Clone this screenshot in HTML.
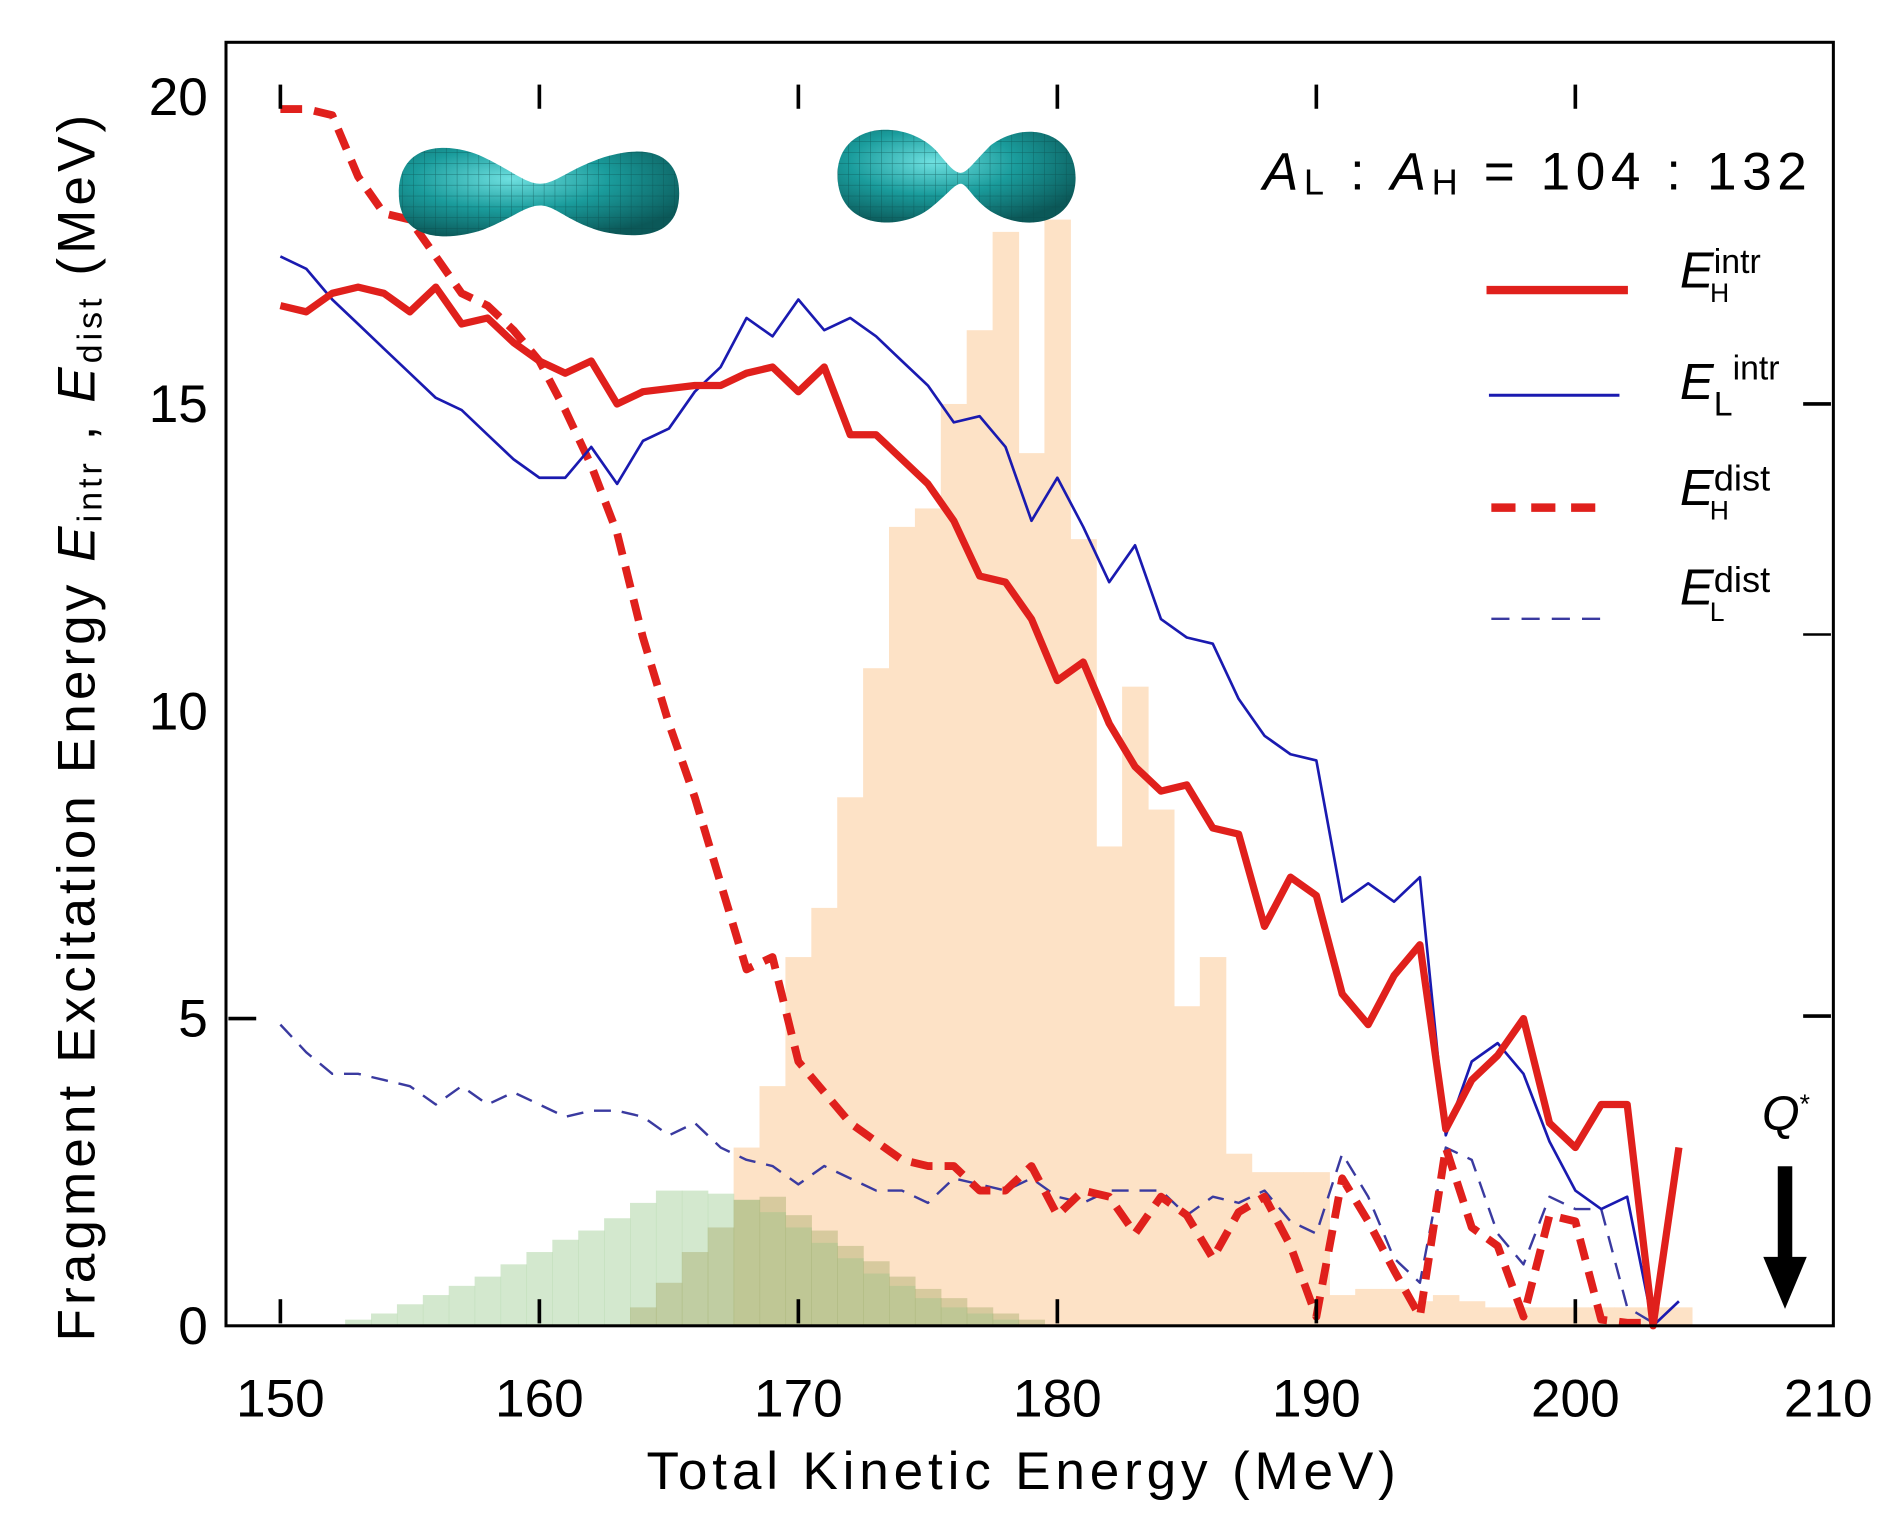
<!DOCTYPE html>
<html><head><meta charset="utf-8"><style>
html,body{margin:0;padding:0;background:#fff;}
svg{display:block;font-family:"Liberation Sans",Arial,sans-serif;}
</style></head><body>
<svg id="chart" width="1895" height="1524" viewBox="0 0 1568 1261" preserveAspectRatio="none" xmlns="http://www.w3.org/2000/svg">
<defs>
<radialGradient id="teal" cx="40%" cy="35%" r="70%">
<stop offset="0" stop-color="#6fe0e0"/><stop offset="0.5" stop-color="#1a9c9c"/><stop offset="1" stop-color="#0b5858"/>
</radialGradient>
<pattern id="grid" width="9" height="9" patternUnits="userSpaceOnUse">
<path d="M0 0H9M0 0V9" stroke="#0a4a4a" stroke-width="0.8" fill="none" opacity="0.6"/>
</pattern>
</defs>
<g id="hist"></g>
<g id="lines"></g>
<g id="axes"></g>
<g>
<path d="M330 160 C330 115 375 118 400 130 C425 142 435 152 447 152 C460 152 470 140 500 130 C540 118 562 130 562 160 C562 190 540 200 500 192 C470 184 460 170 447 170 C435 170 425 180 400 190 C370 200 330 200 330 160Z" fill="url(#teal)"/>
<path d="M330 160 C330 115 375 118 400 130 C425 142 435 152 447 152 C460 152 470 140 500 130 C540 118 562 130 562 160 C562 190 540 200 500 192 C470 184 460 170 447 170 C435 170 425 180 400 190 C370 200 330 200 330 160Z" fill="url(#grid)"/>
</g>
<g>
<path d="M693 145 C693 100 750 98 775 125 C785 137 790 143 795 143 C800 143 805 135 820 120 C850 98 890 110 890 147 C890 185 850 193 820 175 C805 165 800 152 795 152 C790 152 785 160 770 172 C745 192 693 190 693 145Z" fill="url(#teal)"/>
<path d="M693 145 C693 100 750 98 775 125 C785 137 790 143 795 143 C800 143 805 135 820 120 C850 98 890 110 890 147 C890 185 850 193 820 175 C805 165 800 152 795 152 C790 152 785 160 770 172 C745 192 693 190 693 145Z" fill="url(#grid)"/>
</g>
<text x="1045" y="157" font-size="44" textLength="450" lengthAdjust="spacing"><tspan font-style="italic">A</tspan><tspan font-size="30" dy="4">L</tspan><tspan dy="-4"> : </tspan><tspan font-style="italic">A</tspan><tspan font-size="30" dy="4">H</tspan><tspan dy="-4"> =  104 : 132</tspan></text>
<g>
<line x1="1230" y1="240" x2="1347" y2="240" stroke="#e0201c" stroke-width="7"/>
<text x="1390" y="238" font-size="42" font-style="italic">E<tspan font-style="normal" font-size="28" dy="-12">intr</tspan><tspan font-style="normal" font-size="22" dx="-42" dy="24">H</tspan></text>
<line x1="1232" y1="327" x2="1340" y2="327" stroke="#1a1ab0" stroke-width="2.5"/>
<text x="1390" y="330" font-size="42" font-style="italic">E<tspan font-style="normal" font-size="28" dy="14">L</tspan><tspan font-style="normal" font-size="28" dy="-30">intr</tspan></text>
<line x1="1234" y1="420" x2="1330" y2="420" stroke="#e0201c" stroke-width="7" stroke-dasharray="20 13"/>
<text x="1390" y="418" font-size="42" font-style="italic">E<tspan font-style="normal" font-size="30" dy="-12">dist</tspan><tspan font-style="normal" font-size="22" dx="-50" dy="24">H</tspan></text>
<line x1="1234" y1="512" x2="1330" y2="512" stroke="#3a3aa0" stroke-width="2" stroke-dasharray="15 10"/>
<text x="1390" y="500" font-size="42" font-style="italic">E<tspan font-style="normal" font-size="30" dy="-10">dist</tspan><tspan font-style="normal" font-size="22" dx="-50" dy="24">L</tspan></text>
</g>
<g>
<text x="1458" y="935" font-size="40" font-style="italic">Q<tspan font-style="normal" font-size="22" dy="-14">*</tspan></text>
<rect x="1471" y="965" width="12" height="80" fill="#000"/>
<polygon points="1459,1040 1495,1040 1477,1083" fill="#000"/>
</g>
<text x="535" y="1232" font-size="44" textLength="620" lengthAdjust="spacing">Total Kinetic Energy (MeV)</text>
<text transform="translate(78,1110) rotate(-90)" font-size="44" textLength="1015" lengthAdjust="spacing">Fragment Excitation Energy <tspan font-style="italic">E</tspan><tspan font-size="28" dy="6">intr</tspan><tspan dy="-6"> , </tspan><tspan font-style="italic">E</tspan><tspan font-size="28" dy="6">dist</tspan><tspan dy="-6"> (MeV)</tspan></text>
</svg>
<script>
const tke = [150,151,152,153,154,155,156,157,158,159,160,161,162,163,164,165,166,167,168,169,170,171,172,173,174,175,176,177,178,179,180,181,182,183,184,185,186,187,188,189,190,191,192,193,194,195,196,197,198,199,200,201,202,203,204];
const ehIntr = [16.6,16.5,16.8,16.9,16.8,16.5,16.9,16.3,16.4,16.0,15.7,15.5,15.7,15.0,15.2,15.25,15.3,15.3,15.5,15.6,15.2,15.6,14.5,14.5,14.1,13.7,13.1,12.2,12.1,11.5,10.5,10.8,9.8,9.1,8.7,8.8,8.1,8.0,6.5,7.3,7.0,5.4,4.9,5.7,6.2,3.2,4.0,4.4,5.0,3.3,2.9,3.6,3.6,0,2.9];
const elIntr = [17.4,17.2,16.7,16.3,15.9,15.5,15.1,14.9,14.5,14.1,13.8,13.8,14.3,13.7,14.4,14.6,15.2,15.6,16.4,16.1,16.7,16.2,16.4,16.1,15.7,15.3,14.7,14.8,14.3,13.1,13.8,13.0,12.1,12.7,11.5,11.2,11.1,10.2,9.6,9.3,9.2,6.9,7.2,6.9,7.3,3.1,4.3,4.6,4.1,3.0,2.2,1.9,2.1,0,0.4];
const tkeDist = [150,151,152,153,154,155,156,157,158,159,160,161,162,163,164,165,166,167,168,169,170,171,172,173,174,175,176,177,178,179,180,181,182,183,184,185,186,187,188,189,190,191,192,193,194,195,196,197,198,199,200,201,202,203];
const ehDist = [19.8,19.8,19.7,18.7,18.1,18.0,17.4,16.8,16.6,16.2,15.7,14.9,14.0,12.9,11.2,9.8,8.6,7.2,5.8,6.0,4.3,3.8,3.3,3.0,2.7,2.6,2.6,2.2,2.2,2.6,1.8,2.2,2.1,1.5,2.1,1.8,1.1,1.85,2.1,1.3,0.15,2.4,1.7,0.9,0.15,2.9,1.6,1.3,0.15,1.8,1.7,0.1,0.05,0.05];
const elDist = [4.9,4.45,4.1,4.1,4.0,3.9,3.6,3.9,3.6,3.8,3.6,3.4,3.5,3.5,3.4,3.1,3.3,2.9,2.7,2.6,2.3,2.6,2.4,2.2,2.2,2.0,2.4,2.3,2.2,2.4,2.1,2.0,2.2,2.2,2.2,1.8,2.1,2.0,2.2,1.7,1.5,2.8,2.1,1.1,0.7,2.9,2.7,1.5,1.0,2.1,1.9,1.9,0.3,0.05];
const peachBins = [168,169,170,171,172,173,174,175,176,177,178,179,180,181,182,183,184,185,186,187,188,189,190,191,192,193,194,195,196,197,198,199,200,201,202,203,204];
const peachVals = [2.9,3.9,6.0,6.8,8.6,10.7,13.0,13.3,15.0,16.2,17.8,14.2,18.0,12.8,7.8,10.4,8.4,5.2,6.0,2.8,2.5,2.5,2.5,0.5,0.6,0.6,0.4,0.5,0.4,0.3,0.3,0.3,0.3,0.3,0.3,0.3,0.3];
const lightGreenBins = [153,154,155,156,157,158,159,160,161,162,163,164,165,166,167,168,169,170,171,172,173,174,175,176,177,178];
const lightGreenVals = [0.1,0.2,0.35,0.5,0.65,0.8,1.0,1.2,1.4,1.55,1.75,2.0,2.2,2.2,2.15,2.05,1.85,1.6,1.35,1.1,0.85,0.65,0.45,0.3,0.2,0.1];
const oliveBins = [164,165,166,167,168,169,170,171,172,173,174,175,176,177,178,179];
const oliveVals = [0.3,0.7,1.2,1.6,2.05,2.1,1.8,1.55,1.3,1.05,0.8,0.6,0.45,0.3,0.2,0.1];
const xTicks = [150,160,170,180,190,200,210];
const yTicks = [0,5,10,15,20];

const NS = "http://www.w3.org/2000/svg";
const X = v => 232 + (v - 150) * 21.43;
const Y = v => 1097 - v * 50.85;
function mk(tag, attrs, parent){const e=document.createElementNS(NS,tag);for(const k in attrs)e.setAttribute(k,attrs[k]);parent.appendChild(e);return e;}
const hist = document.getElementById('hist');
function drawHist(bins, vals, color, name, op){
  bins.forEach((b,i)=>{
    const r = mk('rect',{x:X(b-0.5),y:Y(vals[i]),width:X(b+0.5)-X(b-0.5)+0.5,height:Y(0)-Y(vals[i]),fill:color,opacity:op},hist);
    
    
  });
}
drawHist(peachBins, peachVals, '#fde2c6', 'tke-yield-bar', 1);
drawHist(lightGreenBins, lightGreenVals, '#b5d8ae', 'green-yield-bar', 0.6);
drawHist(oliveBins, oliveVals, '#a8ae6c', 'olive-yield-bar', 0.45);

const lines = document.getElementById('lines');
function drawLine(xs, ys, color, w, dash, name){
  const d = xs.map((x,i)=>(i?'L':'M')+X(x).toFixed(1)+' '+Y(ys[i]).toFixed(1)).join(' ');
  const p = mk('path',{d:d,fill:'none',stroke:color,'stroke-width':w,'stroke-linejoin':'round'},lines);
  if(dash) p.setAttribute('stroke-dasharray',dash);
  
  
}
drawLine(tkeDist, elDist, '#3a3aa0', 2, '14 9', 'el-dist-line');
drawLine(tkeDist, ehDist, '#e0201c', 6.5, '18 10', 'eh-dist-line');
drawLine(tke, elIntr, '#1a1ab0', 2.2, null, 'el-intr-line');
drawLine(tke, ehIntr, '#e0201c', 6, null, 'eh-intr-line');

const axes = document.getElementById('axes');
const frame = mk('rect',{x:187,y:35,width:1330,height:1062,fill:'none',stroke:'#000','stroke-width':2.5},axes);


xTicks.forEach(t=>{
  if(t<210){
    mk('line',{x1:X(t),y1:1075,x2:X(t),y2:1095,stroke:'#000','stroke-width':3},axes);
    mk('line',{x1:X(t),y1:70,x2:X(t),y2:90,stroke:'#000','stroke-width':3},axes);
  }
  const tx = mk('text',{x:X(t)+(t===210?-5:0),y:1172,'font-size':44,'text-anchor':'middle'},axes);
  tx.textContent = t;
  
  
});
yTicks.forEach(t=>{
  const ty = mk('text',{x:172,y:Y(t)+15,'font-size':44,'text-anchor':'end'},axes);
  ty.textContent = t;
  
  
});
mk('line',{x1:189,y1:Y(5),x2:212,y2:Y(5),stroke:'#000','stroke-width':3},axes);
[15,5].forEach(t=>mk('line',{x1:1492,y1:Y(t)+(t===15?0:-2),x2:1515,y2:Y(t)+(t===15?0:-2),stroke:'#000','stroke-width':3},axes));
mk('line',{x1:1492,y1:525,x2:1515,y2:525,stroke:'#000','stroke-width':2},axes);
</script>
</body></html>
